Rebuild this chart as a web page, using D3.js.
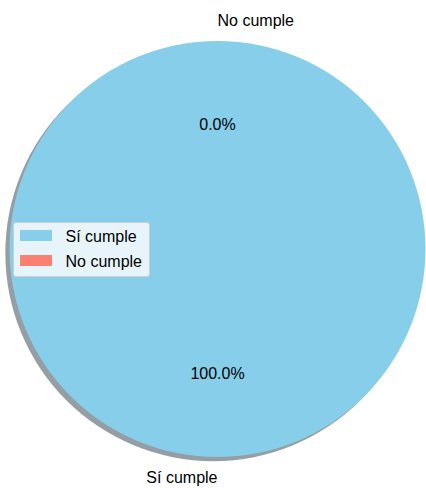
<!DOCTYPE html>
<html>
<head>
<meta charset="utf-8">
<script src="https://cdn.jsdelivr.net/npm/d3@7"></script>
<style>
    body { margin: 0; background: #fff; }
    text { font-family: "Liberation Sans", Arial, sans-serif; }
</style>
</head>
<body>
<script>
const categories = ["Sí cumple", "No cumple"];
const values = [100, 0];
const colours = ["#87ceeb", "#fa8072"];

const width = 426;
const height = 488;
const cx = 217.5;
const cy = 249;
const radius = 208;
const fontSize = 16;

const svg = d3.select("body")
    .append("svg")
    .attr("width", width)
    .attr("height", height);

const total = d3.sum(values);
// start at 12 o'clock and go counter-clockwise, like startangle=90
const slices = d3.pie()
    .value(d => d)
    .sort(null)
    .startAngle(0)
    .endAngle(-2 * Math.PI)(values);

// label angles worked out the matplotlib way (0 = 3 o'clock, counter-clockwise)
const cum = [0, ...d3.cumsum(values)];
const mids = values.map((v, i) => {
    const t1 = 0.25 + cum[i] / total;
    const t2 = 0.25 + cum[i + 1] / total;
    return 2 * Math.PI * 0.5 * (t1 + t2);
});

const arc = d3.arc().innerRadius(0).outerRadius(radius);

const colour = d3.scaleOrdinal().domain(categories).range(colours);

// shadows
const shadowOff = 0.02 * radius;
svg.append("g")
    .attr("transform", `translate(${cx - shadowOff}, ${cy + shadowOff})`)
    .selectAll("path")
    .data(slices)
    .join("path")
    .attr("d", arc)
    .attr("fill", (d, i) => {
        const c = d3.rgb(colour(categories[i]));
        return d3.rgb(c.r * 0.3, c.g * 0.3, c.b * 0.3);
    })
    .attr("fill-opacity", 0.5);

// wedges
const pieG = svg.append("g").attr("transform", `translate(${cx}, ${cy})`);
pieG.selectAll("path")
    .data(slices)
    .join("path")
    .attr("d", arc)
    .attr("fill", (d, i) => colour(categories[i]));

// labels
pieG.selectAll("text.label")
    .data(slices)
    .join("text")
    .attr("class", "label")
    .attr("x", (d, i) => 1.1 * radius * Math.cos(mids[i]))
    .attr("y", (d, i) => -1.1 * radius * Math.sin(mids[i]))
    .attr("dy", "0.35em")
    .attr("text-anchor", (d, i) => Math.cos(mids[i]) > 0 ? "start" : "end")
    .attr("font-size", fontSize)
    .attr("fill", "#000")
    .text((d, i) => categories[i]);

// percentages
pieG.selectAll("text.pct")
    .data(slices)
    .join("text")
    .attr("class", "pct")
    .attr("x", (d, i) => 0.6 * radius * Math.cos(mids[i]))
    .attr("y", (d, i) => -0.6 * radius * Math.sin(mids[i]))
    .attr("dy", "0.35em")
    .attr("text-anchor", "middle")
    .attr("font-size", fontSize)
    .attr("fill", "#000")
    .text(d => (d.data / total * 100).toFixed(1) + "%");

// legend
const legend = svg.append("g").attr("transform", "translate(13.5, 222.5)");
legend.append("rect")
    .attr("width", 136)
    .attr("height", 54)
    .attr("rx", 2.5)
    .attr("fill", "#fff")
    .attr("fill-opacity", 0.8)
    .attr("stroke", "#cccccc")
    .attr("stroke-opacity", 0.8);

const items = legend.selectAll("g.item")
    .data(categories)
    .join("g")
    .attr("class", "item")
    .attr("transform", (d, i) => `translate(0, ${i * 25})`);

items.append("rect")
    .attr("x", 6.5)
    .attr("y", 7.5)
    .attr("width", 32)
    .attr("height", 11)
    .attr("fill", d => colour(d));

items.append("text")
    .attr("x", 52)
    .attr("y", 13.5)
    .attr("dy", "0.35em")
    .attr("font-size", fontSize)
    .attr("fill", "#000")
    .text(d => d);
</script>
</body>
</html>
